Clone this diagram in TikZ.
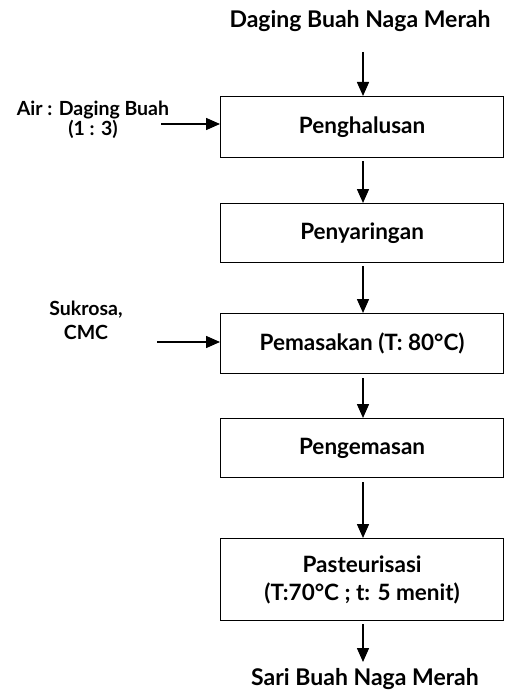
\documentclass[tikz,border=0pt]{standalone}
\usepackage{fontspec}
\setmainfont{Lato}
\usetikzlibrary{arrows.meta}
\begin{document}
\begin{tikzpicture}[x=1pt,y=-1pt,
  procbox/.style={draw,line width=1.2pt,minimum width=283pt,anchor=north west,inner sep=0pt,font=\bfseries\fontsize{22.5}{28}\selectfont,align=center},
  lbl/.style={font=\bfseries\fontsize{23}{26}\selectfont,inner sep=0pt,anchor=base},
  sidelbl/.style={font=\bfseries\fontsize{19.5}{20}\selectfont,align=center,inner sep=0pt},
  flow/.style={line width=1.5pt,-{Triangle[length=14pt,width=12pt]}}]
\useasboundingbox (0,0) rectangle (505,690);
\node[lbl] (top) at (360,28) {Daging Buah Naga Merah};
\node[procbox,minimum height=61pt] (b1) at (220,96) {Penghalusan};
\node[procbox,minimum height=59pt] (b2) at (220,203) {Penyaringan};
\node[procbox,minimum height=60pt] (b3) at (220,313) {Pemasakan (T: 80°C)};
\node[procbox,minimum height=59pt] (b4) at (220,418) {Pengemasan};
\node[procbox,minimum height=82pt] (b5) at (220,538) {Pasteurisasi\\(T:70°C ; t: 5 menit)};
\node[lbl] (bot) at (365,685) {Sari Buah Naga Merah};
\node[sidelbl] (s1) at (93,120) {Air : Daging Buah\\(1 : 3)};
\node[sidelbl,font=\bfseries\fontsize{19.5}{24}\selectfont] (s2) at (86,320) {Sukrosa,\\CMC};
\coordinate (s1e) at (161,124);
\coordinate (s2e) at (157,342);
\draw[flow] (363,52) -- (b1.north -| 363,0);
\draw[flow] (363,161) -- (b2.north -| 363,0);
\draw[flow] (363,266) -- (b3.north -| 363,0);
\draw[flow] (363,378) -- (b4.north -| 363,0);
\draw[flow] (363,482) -- (b5.north -| 363,0);
\draw[flow] (363,624) -- (363,662);
\draw[flow] (s1e) -- (b1.west |- s1e);
\draw[flow] (s2e) -- (b3.west |- s2e);
\end{tikzpicture}
\end{document}
